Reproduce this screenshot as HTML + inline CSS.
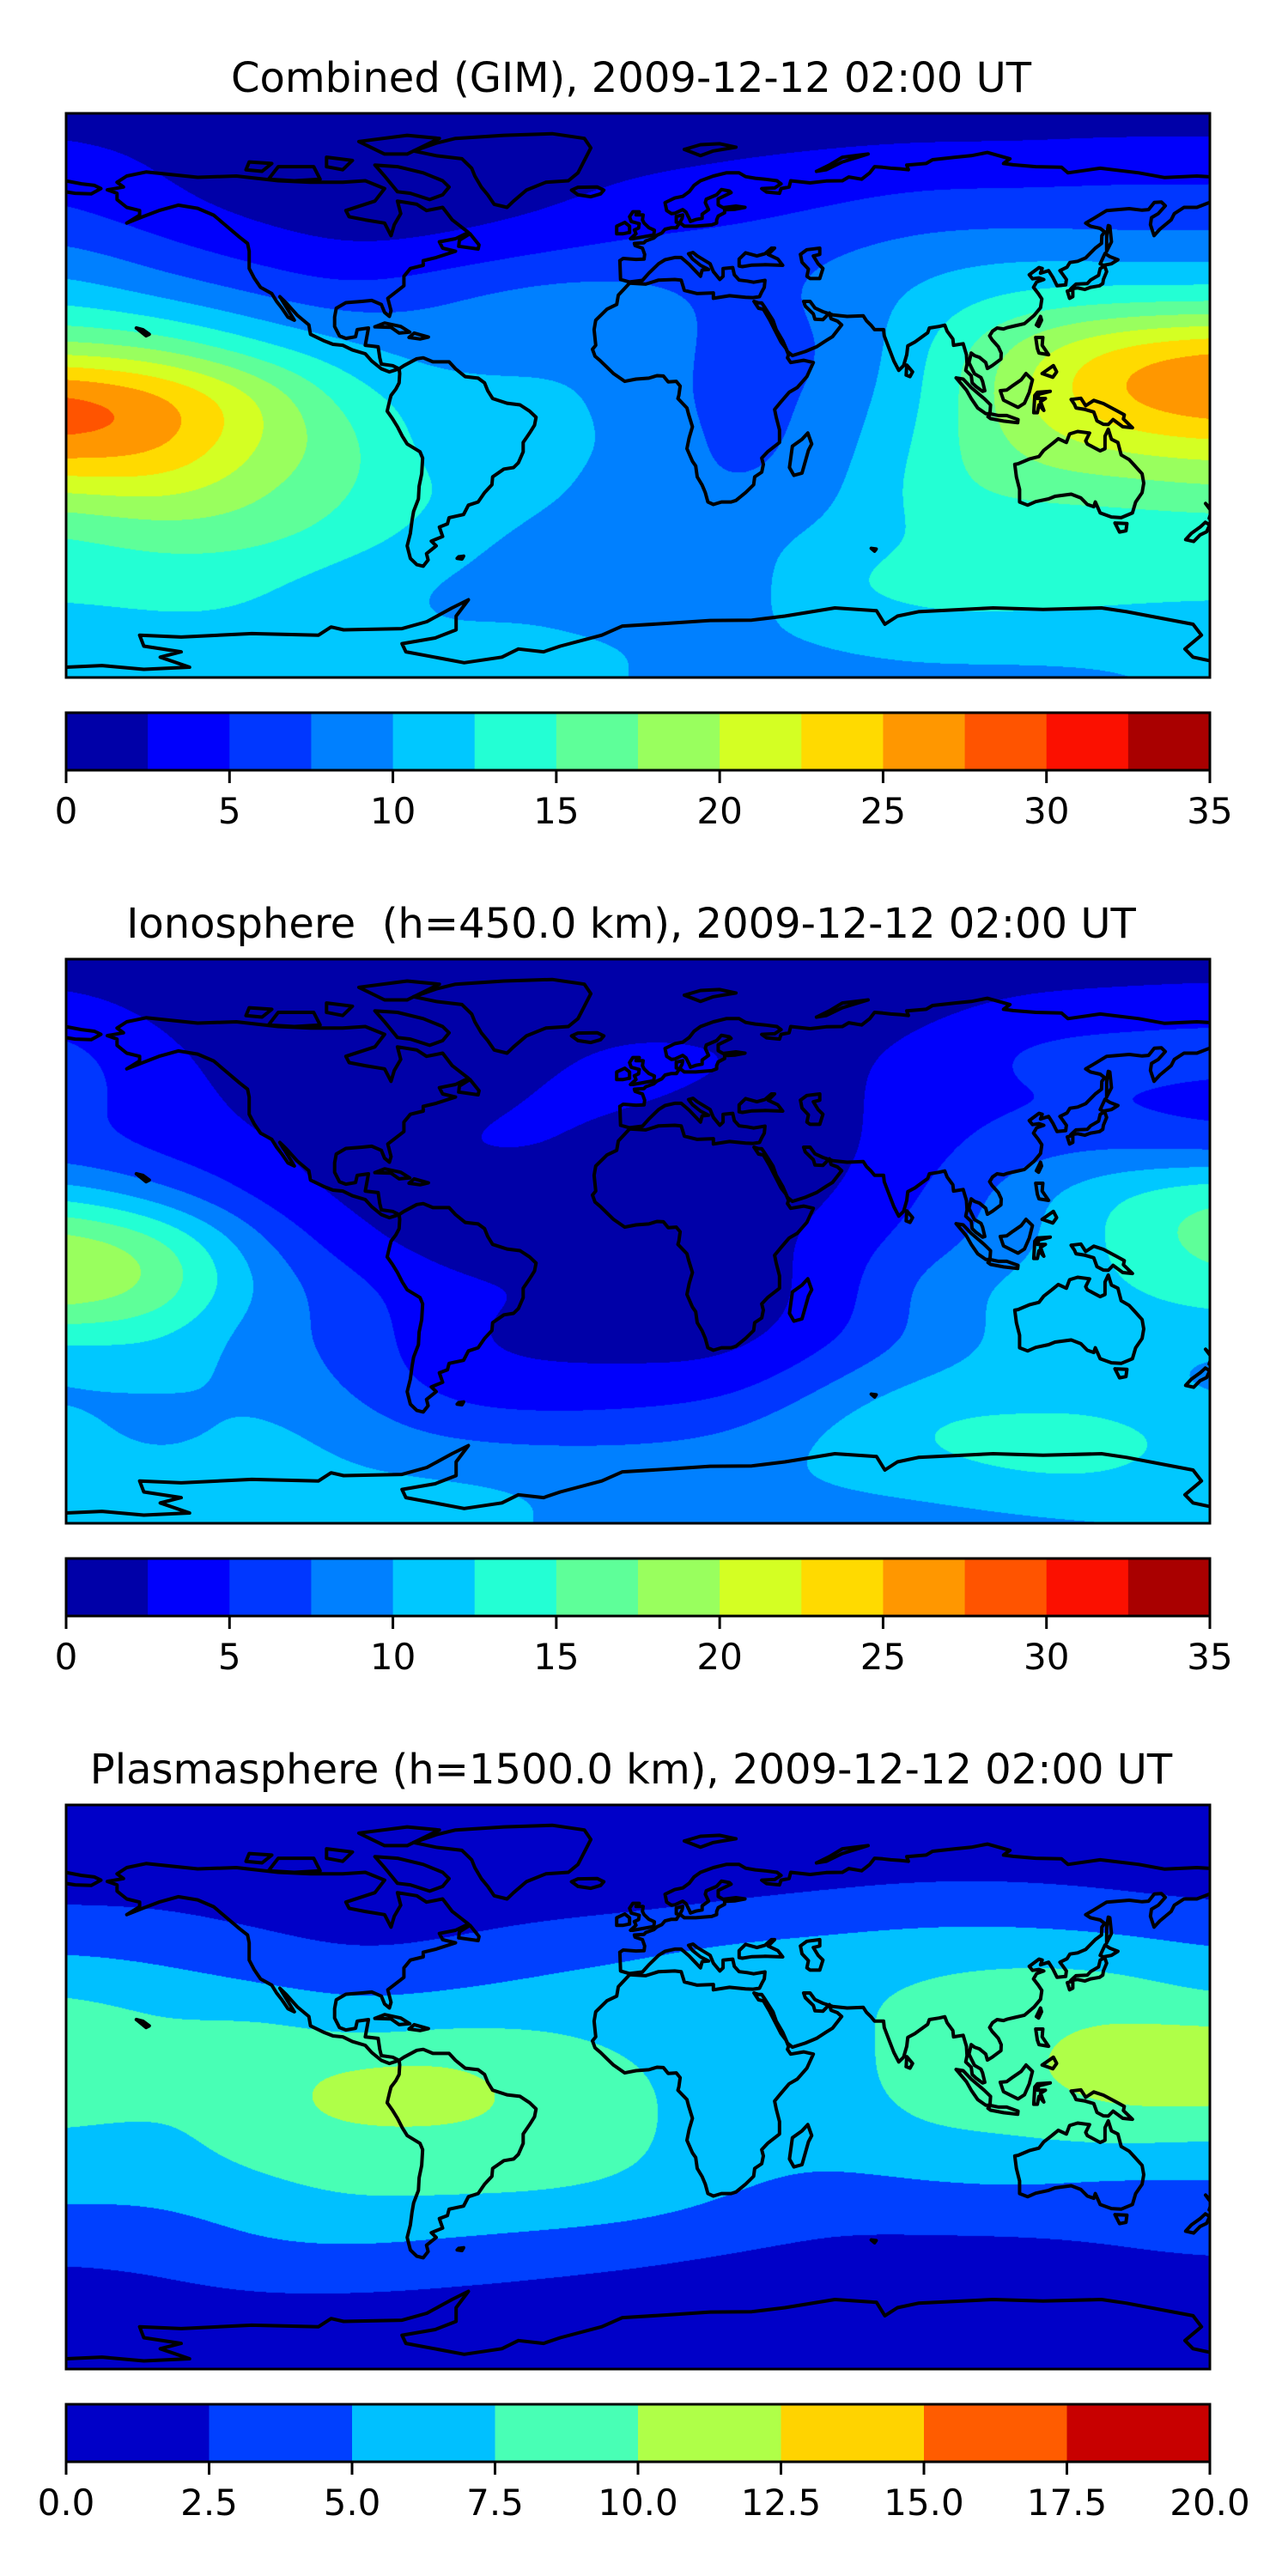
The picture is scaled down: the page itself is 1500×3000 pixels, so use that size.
<!DOCTYPE html>
<html>
<head>
<meta charset="utf-8">
<style>
html,body{margin:0;padding:0;background:#fff;}
#wrap{position:relative;width:1500px;height:3000px;overflow:hidden;background:#fff;}
canvas{position:absolute;}
svg{position:absolute;left:0;top:0;}
</style>
</head>
<body>
<div id="wrap">
<canvas id="map0" width="1332" height="657" style="left:77px;top:132px"></canvas>
<canvas id="map1" width="1332" height="657" style="left:77px;top:1117px"></canvas>
<canvas id="map2" width="1332" height="657" style="left:77px;top:2102px"></canvas>
<svg id="ov" width="1500" height="3000" xmlns="http://www.w3.org/2000/svg">
<text x="735" y="107" text-anchor="middle" font-family="DejaVu Sans, Liberation Sans, sans-serif" font-size="48">Combined (GIM), 2009-12-12 02:00 UT</text>
<text x="735" y="1092" text-anchor="middle" font-family="DejaVu Sans, Liberation Sans, sans-serif" font-size="48" xml:space="preserve">Ionosphere  (h=450.0 km), 2009-12-12 02:00 UT</text>
<text x="735" y="2077" text-anchor="middle" font-family="DejaVu Sans, Liberation Sans, sans-serif" font-size="48">Plasmasphere (h=1500.0 km), 2009-12-12 02:00 UT</text>
</svg>
</div>
<script>
const lonGrid=[-180,-150,-120,-90,-60,-30,0,30,60,90,120,150,180];
const latGrid=[90,75,60,45,30,15,0,-15,-30,-45,-60,-75,-90];
const combinedTEC=[
[1,1,1,1,1,1,1,1,1,1,1,1,1],
[4,2,1.5,1,1,1.5,2,2.5,3,3.5,3.5,4,4],
[5,3,1.5,1,1,2,3.5,4,5,6,6,6,6],
[8.5,6,4,2.5,3.5,5,6,6.5,7.5,9,9.5,9,9],
[12,10,8,6,8,9.5,9,6.5,8,11,13.5,14,14],
[18,17,13,10.5,8.5,9,9.5,6,7,12,19,24,26],
[30,27,21,13,11,11,9,6,8,12,20,26,29],
[28,27,20,16,10,10.5,10,6,8.5,13,18.5,21,22],
[20,21.5,18,15,12.5,10.5,9,7,9,14,16,16,17],
[14,16,16,14,11,9,9,9,10.5,13,12.5,13,13],
[13.5,13.5,13,10.5,9.5,9,6.5,8,13,13.5,13.5,13.5,13.5],
[11,12,12,10.5,10,10.5,10,9.5,10.5,12,12,11.5,11],
[10.5,11,10.5,10.5,10.5,10.5,10,9,9,9,9,9.5,10.5]
];
const ionoTEC=[
[1,1,1,1,1,1,1,1,1,1,1,1,1],
[3.5,1.5,1,1,1,1,1,1,1,1.5,3,3.5,4],
[6.5,3,1,1,1,2,3.5,3,1.5,3.5,6,6.5,6.5],
[6,4,1.5,1,1.5,3,3,1.5,1.5,4,4.5,4.5,3.5],
[5.5,4,3,1,3,3,1,1,1.5,4,6.5,7,6],
[11.5,8,4,1.5,1,1,1,1,2,5,9,13,15.5],
[20,17,8,3,1,1,1,1,3.5,6,9,13,17],
[21,18,9.5,6,3,3,1,1,3,9,11,12,14],
[13,13,8,7,2.5,1.5,1.5,1,4,8,11,11,11],
[9,10.5,9.5,7,3.5,3,3,3.5,7.5,10.5,11,11,8.5],
[11,8.5,11,9,6.5,6,6.5,7.5,10.5,13.5,13.5,13.5,12],
[11,11,11,10.5,10.5,10,9.5,9.5,10.5,11.5,13,13,11],
[10.5,10.5,10.5,10.5,10.5,10,9,8.5,8.5,8.5,9,9.5,10]
];
const plasmaTEC=[
[1,1,1,1,1,1,1,1,1,1,1,1,1],
[1.5,1.5,1.5,1.5,1.5,1.5,1.5,1.5,1.5,1.5,1.5,1.5,1.5],
[2,2,1.5,1.5,1.5,1.5,1.5,2,2.5,3,3,2.5,2],
[4.5,4,3,2,2.5,3.5,4.5,5.5,6,6.5,6.5,6,5],
[7.5,6.5,5.5,4.5,5,6,6.5,7,7,8,9,9,7],
[10,8,9.5,7.5,8.5,8,7,6.5,6.5,8.5,9.5,11,11.5],
[10,8.5,8.5,12,12,9,8,6,6.5,8.5,9.5,11.5,11.5],
[7,6.5,9.5,9.5,9.5,9.5,8,6,6,7.5,7.5,8.5,8],
[6,6,7,8.5,8.5,8.5,7.5,5.5,4.5,5,5.5,4.5,4.5],
[4,4,5.5,6,5.5,5,4.5,3.5,2.5,2.5,2.5,3,4],
[2,2.5,3.5,3.5,3,2.5,2,1.5,1.5,1.5,1.5,1.5,1.5],
[1,1,1,1,1,1,1,1,1,1,1,1,1],
[1,1,1,1,1,1,1,1,1,1,1,1,1]
];
const colors35=["#0000a8","#0000fc","#0037ff","#0080ff","#00c8ff","#23ffd4","#5eff99","#99ff5e","#d4ff23","#ffda00","#ff9700","#ff5400","#fb1000","#a90000"];
const colors20=["#0000c8","#0040ff","#00c0ff","#48ffb5","#afff48","#ffd300","#ff5c00","#c80000"];
const ticks35=[0,5,10,15,20,25,30,35];
const tickLabels35=["0","5","10","15","20","25","30","35"];
const ticks20=[0,2.5,5,7.5,10,12.5,15,17.5,20];
const tickLabels20=["0.0","2.5","5.0","7.5","10.0","12.5","15.0","17.5","20.0"];

const coasts=[
[[-165,68],[-162,70],[-156,71.3],[-140,69.6],[-128,70],[-115,68.5],[-105,68],[-95,68],[-88,68.5],[-82,66],[-85,62],[-94,59],[-93,57],[-88,56],[-82,55],[-80,51],[-79,54.5],[-77,58],[-78,62],[-72,61],[-69,59],[-64,60],[-61,56],[-56,52],[-60,50],[-65,49],[-64,47],[-60,46],[-66,44],[-70,43],[-70,41.5],[-74,40.5],[-76,38],[-76,35],[-81,31],[-80,27],[-80.5,25.2],[-82,26.5],[-83,29],[-86,30.3],[-89,30],[-94,29.6],[-97,27.8],[-97.5,25],[-97.5,22],[-96,19],[-94,18.2],[-91,18.7],[-90.5,21],[-87,21.5],[-88,16],[-84,15.5],[-83.5,12],[-83,10],[-79.5,9.5],[-77.5,8.5],[-79,8],[-80.5,7.5],[-83,8.5],[-86,11],[-88,13.3],[-92,14.5],[-95,16],[-98,16.3],[-101,17.5],[-105,19.5],[-105.5,22.5],[-109,25.5],[-112.5,29.5],[-114.5,31.5],[-113,29],[-110,24],[-112,25],[-114,28],[-115.5,30],[-117,32.5],[-120.5,34.5],[-122.5,37.5],[-124,40.5],[-124,46],[-124.5,48.5],[-127,50.5],[-131,54],[-135,57.5],[-140,59.7],[-146,60.7],[-152,59],[-157,57],[-162,55],[-158,57.5],[-158,59],[-162,60],[-165,62.5],[-165,64.5],[-168,65.6],[-163,66.5],[-165,68]],
[[-77.5,8.5],[-76,9.5],[-72,11.7],[-70,12],[-67,10.7],[-62,10.7],[-60,8.5],[-57,6],[-53,5.5],[-51,4],[-50,1.5],[-48.5,-1],[-44,-2.5],[-40,-3],[-37,-5],[-35,-7],[-35.5,-9.5],[-37,-12],[-39,-15],[-39,-18],[-40.5,-21.5],[-42,-23],[-45,-23.5],[-48.5,-26],[-48.7,-28.5],[-51,-31],[-53,-34],[-56,-35],[-57.5,-38],[-62,-39],[-62.5,-41],[-65,-42],[-64,-45],[-67.5,-46.5],[-66,-48],[-69,-50.5],[-68.5,-52.5],[-70,-54.5],[-72,-54],[-74,-52],[-75,-48],[-74,-44],[-73.5,-40],[-73,-37],[-71.5,-33],[-71.3,-29],[-70.5,-25],[-70.2,-20],[-71,-18],[-75,-15.5],[-76.5,-13],[-78,-10],[-79.5,-7.5],[-81.2,-5],[-80.5,-2],[-80,0],[-78.5,2],[-77.5,4],[-77.3,7],[-77.5,8.5]],
[[-73,78],[-66,80.5],[-60,82],[-45,83],[-30,83.5],[-20,82],[-18,79],[-20,75],[-22,71],[-25,68.5],[-32,68],[-38,65.5],[-42,62],[-44,60],[-48,61],[-50,64],[-52,66.5],[-54,70],[-55,72.5],[-58,75.5],[-66,76.5],[-73,78]],
[[-62,66.5],[-64,64],[-68,62.5],[-74,64.5],[-78,65],[-82,70],[-85,73.5],[-78,73],[-70,71],[-64,68.5],[-62,66.5]],
[[-75,77],[-82,77],[-90,81],[-75,83],[-65,82],[-75,77]],
[[-118,69],[-110,68.5],[-102,69],[-104,73],[-115,73],[-118,69]],
[[-125,72],[-120,71.5],[-117,74],[-124,74.5],[-125,72]],
[[-100,73],[-95,72],[-92,75],[-100,76],[-100,73]],
[[-9,43],[-8.8,37],[-6,36.2],[-2,36.7],[0,39],[3,42],[5,43.3],[8,44],[10,44],[12.5,41.8],[16,38],[16.5,40],[18.5,40.2],[16,41.5],[13.5,43.6],[12.3,45.2],[13.7,45.6],[15,44.5],[19,42],[20,39.5],[22,37],[23,38],[23,40.5],[26,40.8],[26.5,38.5],[28,36.8],[30.5,36.5],[32.5,36.1],[36,36.7],[35.8,34.5],[35,33],[34.3,31.5],[32.3,31.2],[30,31.3],[25,31.8],[20,31],[20,32.7],[15,32.5],[11,33.5],[10,36.8],[8,37],[3,36.8],[-1,35.5],[-6,35.8],[-9.5,32],[-10,29],[-13,27.5],[-16.5,24],[-17,21],[-16.5,16],[-17.5,14.7],[-16.7,12.5],[-15,11],[-13,9],[-11,7],[-7.5,4.5],[-4,5.2],[0,5.5],[2.5,6.3],[4.5,6.2],[6,4.3],[8.5,4.5],[9.7,3],[9.3,0],[9,-1],[11.8,-4],[12.3,-6],[13.5,-10],[12.5,-13.5],[11.8,-17],[13.5,-21],[14.5,-22.5],[15,-26],[16.5,-28.6],[17.5,-31],[18.3,-34],[20,-34.8],[22.5,-34],[25.5,-34],[27,-33.5],[30,-31],[32.5,-28.5],[32.8,-26],[35,-24.5],[35.5,-22],[35,-20],[36.8,-18],[40.5,-15],[40.5,-11],[39.5,-7],[39,-4.5],[41,-2],[43.5,1],[46,2.5],[49,6],[51,10.5],[48,11.2],[44,10.5],[43,12],[43.3,13],[42.5,15],[41,17],[39,21],[37.5,24],[35.5,27.5],[34,27.8],[32.6,30],[34,29.5],[35,29.5],[36,28],[38.5,24],[39.5,21],[41.5,17.5],[43,14],[44.5,12.7],[48.5,14],[52,15.5],[55,17.5],[57,18.8],[59.8,22.5],[58.5,23.7],[56.5,24.5],[56,26.3],[54,24.2],[51.5,24.3],[51,26],[50,27],[48.5,28.5],[48,30],[50,30],[51.5,27.9],[54,26.7],[57,25.7],[61.5,25.2],[66.5,25.4],[67.5,23.8],[69,22.3],[70,21],[72.8,21],[73,19],[74.5,15],[76,11],[77.5,8],[79,9.5],[80,13],[80.3,15.8],[82.5,17],[86.5,20],[87,21.5],[90,22],[91.8,22.4],[92.5,20.5],[94.3,18],[94.5,16],[97.5,16.5],[98.5,13],[98.7,10],[98.3,8],[100,6.3],[100.3,4],[101.5,2.8],[103.5,1.3],[104.2,1.5],[103.5,4.5],[103,5.7],[101,6.9],[100,9],[99.3,10.5],[100,13.5],[101,12.7],[102.6,12.1],[104.5,10.5],[105,8.6],[106.5,9.5],[109.2,11.6],[109.3,13.5],[108.4,15.5],[106.5,17.7],[105.7,19],[106.6,20.5],[108,21.5],[110,21.2],[111,21.6],[113.5,22.2],[116.5,22.9],[119.5,25.5],[121.5,28],[121.9,30.8],[120.8,32.5],[119.3,34.5],[120.3,36.2],[122.5,37],[121,37.5],[119,37.2],[118,38.5],[121,40.8],[122,40.5],[121.5,39],[124,39.8],[125.3,37.7],[126.6,35],[129.3,35.3],[129.5,37],[128.4,38.6],[127.5,39.8],[129.7,40.9],[130.6,42.4],[133,42.8],[135.5,43.9],[138.5,47],[140.4,48.5],[140.5,51],[141.4,52.2],[140,53.3],[137,54],[135.5,55],[138,56.5],[142,59],[145.5,59.3],[149,59.6],[153,59.1],[155,59.3],[156.8,61.6],[159,61.7],[160.2,60.5],[158,58],[155.9,56.7],[155.6,54.5],[156.7,51],[158.5,53],[162,56],[163,58],[166,60],[170,60],[175,62],[179,62.5],[181,65]],
[[181,68.5],[178,69.5],[170,70],[160,69.5],[152,71],[140,72.5],[130,71],[128,72.8],[120,73],[113,73.6],[110,74],[112,75.5],[105,77.5],[100,76.5],[95,76],[88,75.2],[86,74],[80,73.5],[80.5,72],[78,72.3],[75,72.5],[72.5,72.8],[70,73],[68.5,71],[66,69],[62,69.7],[60,68.5],[55,68.4],[50,67.8],[44,68.5],[43.5,66.5],[41,66],[40.5,64.5],[36.5,64.9],[35,66],[39,66.2],[41,67.5],[39.7,68.5],[36,69],[33,69.3],[30,69.8],[28,71],[24,71],[20,70],[16,68.5],[14,67],[12.5,65],[10.5,63.5],[8,63],[5,61.5],[5.5,59],[7,58],[8,58.1],[10.5,59.3],[11.5,58.5],[12.5,56.5],[12.9,55.5],[14.5,56.1],[16.5,56.5],[16.5,57.8],[18.5,59.3],[17.5,61.5],[17.8,62.6],[21,64],[22.5,65.7],[25,65.2],[25.5,64.7],[21.5,62.7],[21.5,60.8],[23,59.9],[27,60.4],[29.8,60],[26.8,59.4],[23.5,59.2],[23.5,58.3],[21.5,57.2],[21,56],[21,55],[19.5,54.4],[14.5,54],[11,54],[10,54.8],[8.5,55.3],[8.5,57.1],[10.5,57.6],[10.3,56.5],[9.6,55.1],[8.8,54],[8.6,53.5],[7,53.5],[5,53],[4,51.8],[2.5,51.1],[1.5,50.2],[-1,49.3],[-1.5,48.7],[-4.5,48.5],[-4.3,47.8],[-2,47],[-1.3,45],[-1.5,43.5],[-4,43.4],[-8,43.7],[-9,43]],
[[-181,65],[-178,64.5],[-173,64.3],[-170,66],[-172,67],[-176,67.5],[-181,68.5]],
[[28,41.3],[28,43.5],[30,45.5],[33.5,44.5],[36,45.2],[38,47],[39,47],[37,45],[40,43.5],[41.5,41.5],[36,41.7],[32,41.6],[29,41.1],[28,41.3]],
[[47,45],[49,46.5],[53,47],[53,45],[51,44.5],[52.5,42],[54,40.5],[53,37.3],[50,37.3],[49,38],[49.5,40.3],[47.5,42.5],[47,45]],
[[-5,50],[1.5,51.2],[1.7,52.7],[0,53.5],[-1.5,55],[-2,56],[-1.8,57.6],[-4,57.6],[-3,58.6],[-5,58.6],[-6,57],[-5.5,55.5],[-3,54.8],[-3.2,53.4],[-4.5,52.8],[-4,51.6],[-5.7,50],[-5,50]],
[[-6,52],[-6,54],[-7.5,55.2],[-10,54],[-10,51.6],[-8,51.6],[-6,52]],
[[-22,64],[-24,65.5],[-22,66.4],[-16,66.5],[-14,65.5],[-15,64.3],[-18,63.4],[-22,64]],
[[130.9,34],[132.5,35.5],[136,35.7],[137,36.8],[139.5,38.3],[140,40.5],[141.4,41.3],[142,39.5],[141,37],[140.8,35.7],[139.8,35],[137,34.5],[135.2,33.8],[133,34.3],[130.9,34]],
[[129.8,33.3],[131.5,33.8],[131.5,31.5],[130.5,31],[129.8,33.3]],
[[140,42],[141.5,45.3],[143,44.3],[145.5,43.3],[143.5,42],[141,41.5],[140,42]],
[[142,46],[143.5,49],[143,54],[142.5,54.2],[142,51],[142,46]],
[[120.2,22.5],[121.5,25.2],[121.8,24],[120.9,22],[120.2,22.5]],
[[120,18.5],[122.2,18.5],[122,16],[124,13],[121,13.5],[120.5,15],[120,18.5]],
[[122,7],[125.5,9.5],[126.5,7.5],[125.3,5.8],[122,7]],
[[109,1.5],[110,-1.5],[114.5,-3.8],[116.5,-2.5],[118,1],[119,5],[117,7],[115.5,5],[113,3.2],[111,1.7],[109,1.5]],
[[95.3,5.6],[97.5,5.2],[100,2.5],[104,-1],[106,-3],[105.8,-5.8],[104.5,-5.8],[102,-4],[100,-1],[98.5,1.7],[95.3,5.6]],
[[105.2,-6.8],[106,-5.9],[108.5,-6.4],[111,-6.4],[114.5,-7.7],[114.4,-8.7],[110,-8.2],[106,-7.4],[105.2,-6.8]],
[[119.4,-5.5],[119.7,0],[120.5,1],[124.5,1.3],[121,0.4],[120.5,-1],[123,-1],[121.5,-2],[122.5,-4.8],[121,-3],[120.5,-5.5],[119.4,-5.5]],
[[131,-1.3],[134,-0.9],[135.5,-3.3],[138,-1.6],[141,-2.6],[145,-4.8],[147.5,-6.2],[147.2,-7.5],[150,-10.3],[147,-10],[144,-7.7],[142.5,-9.3],[141,-9.2],[139,-8.1],[138,-5.3],[135,-4.4],[132.5,-4],[132,-2.8],[131,-1.3]],
[[113.5,-22],[114,-26],[115,-30],[115,-34],[117.5,-35],[120,-33.9],[124,-33],[126,-32.2],[131,-31.5],[134,-32.7],[136,-34.8],[138,-35.5],[138.5,-34],[140,-37.5],[143.5,-38.8],[146.5,-39],[150,-37.5],[151,-34],[153,-31],[153.5,-28],[153,-25],[150.8,-22.5],[149,-20.5],[146.5,-19],[145.5,-15],[143.5,-14],[142.5,-10.8],[141.5,-13],[141.5,-17],[140,-17.7],[136,-15.5],[135.5,-14.5],[136.7,-12],[133,-11.5],[130.5,-12.3],[129.5,-15],[127,-13.8],[125,-15.5],[122.5,-17.5],[121,-19.5],[118,-20.3],[114.5,-21.8],[113.5,-22]],
[[144.6,-40.7],[148.3,-40.9],[148,-43.2],[146,-43.6],[144.6,-40.7]],
[[172.7,-34.5],[175,-37],[178.5,-37.7],[177,-39.2],[176.8,-40],[175.2,-41.6],[174.6,-39.8],[173.8,-39.2],[174.5,-37],[172.7,-34.5]],
[[172.6,-40.5],[174,-41.3],[173,-43.5],[171,-44.5],[169,-46.6],[166.5,-46],[168.3,-44],[171,-42],[172.6,-40.5]],
[[49.3,-12],[50.5,-15.5],[49.5,-17.5],[47.5,-24.8],[45,-25.5],[43.6,-23],[44,-20],[44.5,-16.2],[47.5,-14],[49.3,-12]],
[[79.8,6.5],[80,9.7],[81.8,7.5],[81,6],[79.8,6.5]],
[[-85,21.9],[-82,23.1],[-77,22],[-74.2,20.2],[-77.5,19.9],[-80,21.7],[-85,21.9]],
[[-74.4,18.5],[-72.8,19.9],[-68.4,18.6],[-71,18],[-74.4,18.5]],
[[-159,21.5],[-157,21],[-155,19.5],[-156,19],[-159,21.5]],
[[-59,47.6],[-53,46.7],[-52.7,48],[-55.5,51.6],[-58.8,49.5],[-59,47.6]],
[[11,78.5],[16,80],[22,80.3],[27,79.2],[20,78],[16,76.5],[11,78.5]],
[[52,71.5],[56,73.5],[60,76],[68,77],[60,74.5],[55,72],[52,71.5]],
[[-59,-51.5],[-57.5,-51.3],[-58,-52.2],[-59.5,-52],[-59,-51.5]],
[[69,-48.8],[70.5,-49],[70,-49.7],[69,-48.8]],
[[-181,-86.7],[-169.7,-86.2],[-156.7,-87.4],[-142.5,-86.7],[-151.6,-83.5],[-145.1,-81.8],[-156.7,-80],[-158,-76.5],[-145.1,-77.1],[-123.2,-76],[-102.5,-76.5],[-98.6,-73.9],[-94.7,-74.8],[-76.6,-74.4],[-68.9,-72.2],[-61.1,-67.8],[-56,-65.2],[-59.8,-70.4],[-59.8,-74.8],[-66.3,-77.4],[-76.6,-79.2],[-75.4,-81.8],[-57.3,-85.3],[-45.6,-83.5],[-40.5,-80.9],[-32.7,-81.8],[-27.5,-80],[-14.6,-76.5],[-8.2,-73.6],[6,-72.7],[19,-71.8],[31.9,-71.7],[42.2,-70.4],[57.7,-67.8],[70.6,-68.7],[73.2,-73],[77.1,-70.4],[83.6,-69],[106.8,-67.8],[122.3,-68.3],[140.4,-67.8],[148.2,-69],[168.8,-73],[171.4,-76.5],[166.3,-80.9],[168.8,-83.5],[181,-86.2]]
];

const SVGNS="http://www.w3.org/2000/svg";
const MAPX=77, MAPW=1332, MAPH=657;
const panels=[
 {canvas:"map0",top:132,data:combinedTEC,colors:colors35,step:2.5,ticks:ticks35,labels:tickLabels35,vmax:35,name:"combined"},
 {canvas:"map1",top:1117,data:ionoTEC,colors:colors35,step:2.5,ticks:ticks35,labels:tickLabels35,vmax:35,name:"ionosphere"},
 {canvas:"map2",top:2102,data:plasmaTEC,colors:colors20,step:2.5,ticks:ticks20,labels:tickLabels20,vmax:20,name:"plasmasphere"}
];
function hex2rgb(h){return [parseInt(h.substr(1,2),16),parseInt(h.substr(3,2),16),parseInt(h.substr(5,2),16)];}
function bs(p0,p1,p2,p3,t){
  const t2=t*t,t3=t2*t,it=1-t;
  return (it*it*it*p0+(3*t3-6*t2+4)*p1+(-3*t3+3*t2+3*t+1)*p2+t3*p3)/6;
}
function sampleRow(row,u){
  const n=row.length; let i=Math.floor(u); if(i>=n-1)i=n-2; const t=u-i;
  const g=k=>row[Math.max(0,Math.min(n-1,k))];
  return bs(g(i-1),g(i),g(i+1),g(i+2),t);
}
function drawField(p){
  const cv=document.getElementById(p.canvas); const ctx=cv.getContext("2d");
  const img=ctx.createImageData(MAPW,MAPH); const rgb=p.colors.map(hex2rgb);
  const nr=p.data.length, nc=lonGrid.length;
  const rowsX=p.data.map(r=>{const a=new Float32Array(MAPW);for(let x=0;x<MAPW;x++)a[x]=sampleRow(r,x/(MAPW-1)*(nc-1));return a;});
  for(let y=0;y<MAPH;y++){
    const v=y/(MAPH-1)*(nr-1); let j=Math.floor(v); if(j>=nr-1)j=nr-2; const t=v-j;
    const g=k=>rowsX[Math.max(0,Math.min(nr-1,k))];
    const a0=g(j-1),a1=g(j),a2=g(j+1),a3=g(j+2);
    for(let x=0;x<MAPW;x++){
      const val=bs(a0[x],a1[x],a2[x],a3[x],t);
      let li=Math.floor(val/p.step); if(li<0)li=0; if(li>rgb.length-1)li=rgb.length-1;
      const c=rgb[li]; const o=(y*MAPW+x)*4;
      img.data[o]=c[0];img.data[o+1]=c[1];img.data[o+2]=c[2];img.data[o+3]=255;
    }
  }
  ctx.putImageData(img,0,0);
}
const ov=document.getElementById("ov");
const defs=document.createElementNS(SVGNS,"defs"); ov.appendChild(defs);
panels.forEach((p,pi)=>{
  drawField(p);
  const clip=document.createElementNS(SVGNS,"clipPath"); clip.setAttribute("id","clip"+pi);
  const cr2=document.createElementNS(SVGNS,"rect");
  cr2.setAttribute("x",MAPX);cr2.setAttribute("y",p.top);cr2.setAttribute("width",MAPW);cr2.setAttribute("height",MAPH);
  clip.appendChild(cr2); defs.appendChild(clip);
  const cg=document.createElementNS(SVGNS,"g");
  cg.setAttribute("clip-path","url(#clip"+pi+")");
  
  
  const lx=lon=>80+(lon+180)*3.754;
  const ly=lat=>p.top+(90-lat)/180*MAPH;
  coasts.forEach(line=>{
    const path=document.createElementNS(SVGNS,"path");
    path.setAttribute("d","M"+line.map(q=>lx(q[0]).toFixed(1)+","+ly(q[1]).toFixed(1)).join("L"));
    path.setAttribute("fill","none");path.setAttribute("stroke","#000");path.setAttribute("stroke-width","4");
    path.setAttribute("stroke-linejoin","round");path.setAttribute("stroke-linecap","round");
    
    
    cg.appendChild(path);
  });
  ov.appendChild(cg);
  const fr=document.createElementNS(SVGNS,"rect");
  fr.setAttribute("x",MAPX);fr.setAttribute("y",p.top);fr.setAttribute("width",MAPW);fr.setAttribute("height",MAPH);
  fr.setAttribute("fill","none");fr.setAttribute("stroke","#000");fr.setAttribute("stroke-width","3");
  
  
  ov.appendChild(fr);
  const cbTop=p.top+698, cbH=67;
  const cx=v=>MAPX+v/p.vmax*MAPW;
  const cbg=document.createElementNS(SVGNS,"g");
  
  
  p.colors.forEach((c,i)=>{
    const r=document.createElementNS(SVGNS,"rect");
    const x0=cx(i*p.step), x1=cx((i+1)*p.step);
    r.setAttribute("x",x0);r.setAttribute("y",cbTop);r.setAttribute("width",x1-x0+0.5);r.setAttribute("height",cbH);
    r.setAttribute("fill",c);
    
    
    cbg.appendChild(r);
  });
  const cbf=document.createElementNS(SVGNS,"rect");
  cbf.setAttribute("x",MAPX);cbf.setAttribute("y",cbTop);cbf.setAttribute("width",MAPW);cbf.setAttribute("height",cbH);
  cbf.setAttribute("fill","none");cbf.setAttribute("stroke","#000");cbf.setAttribute("stroke-width","3");
  
  
  cbg.appendChild(cbf);
  p.ticks.forEach((tv,i)=>{
    const x=cx(tv);
    const tk=document.createElementNS(SVGNS,"line");
    tk.setAttribute("x1",x);tk.setAttribute("x2",x);tk.setAttribute("y1",cbTop+cbH);tk.setAttribute("y2",cbTop+cbH+15);
    tk.setAttribute("stroke","#000");tk.setAttribute("stroke-width","3");
    
    
    cbg.appendChild(tk);
    const tx=document.createElementNS(SVGNS,"text");
    tx.setAttribute("x",x);tx.setAttribute("y",p.top+827);tx.setAttribute("text-anchor","middle");
    tx.setAttribute("font-family","DejaVu Sans, Liberation Sans, sans-serif");tx.setAttribute("font-size","42");
    
    
    tx.textContent=p.labels[i];
    cbg.appendChild(tx);
  });
  ov.appendChild(cbg);
});
</script>
</body>
</html>
